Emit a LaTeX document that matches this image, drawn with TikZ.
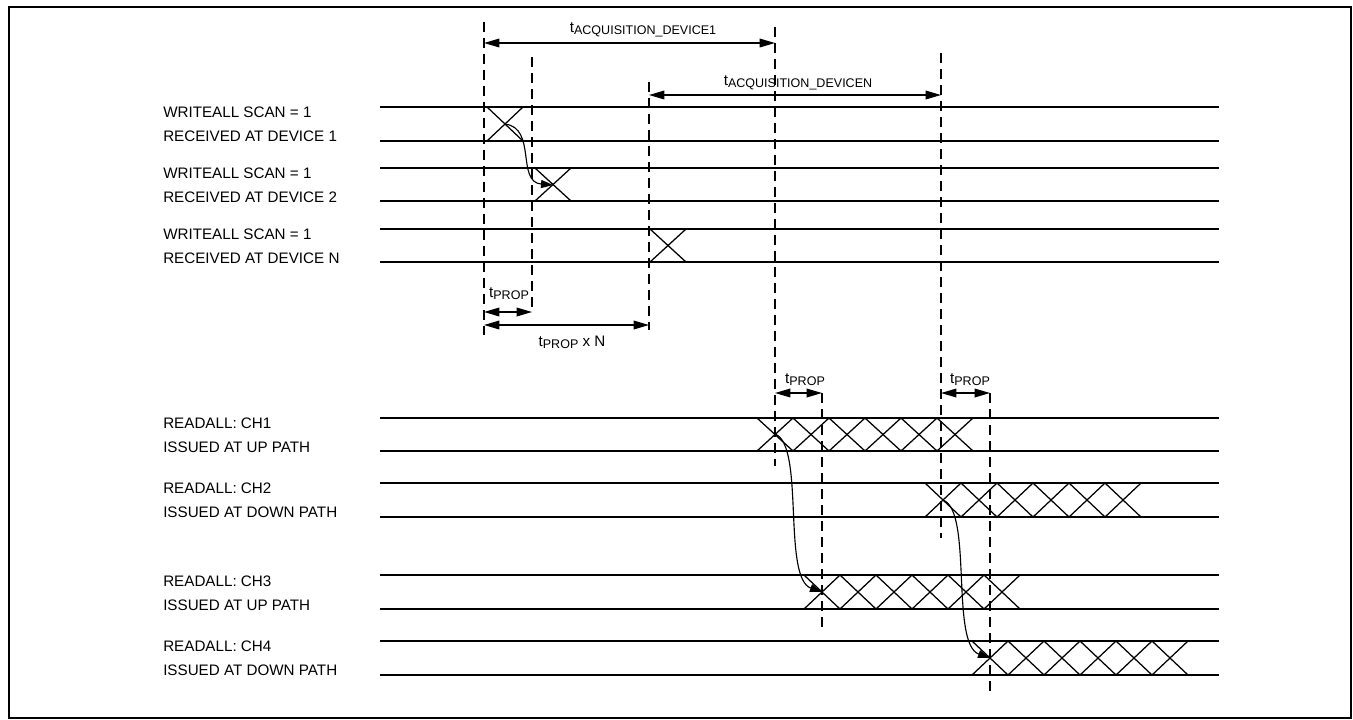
\documentclass[tikz,border=0pt]{standalone}
\usepackage{fontspec}
\setmainfont{Liberation Sans}
\usetikzlibrary{arrows.meta}
\tikzset{
	lane/.style ={line width=1.1pt},
	xing/.style ={line width=0.95pt},
	guide/.style={line width=0.95pt, dash pattern=on 7.5pt off 4.5pt},
	dim/.style  ={{Triangle[length=11.5pt, width=6.5pt]}-{Triangle[length=11.5pt, width=6.5pt]}, line width=0.95pt},
	hop/.style  ={-{Triangle[length=9pt, width=6pt]}, line width=0.85pt},
	lbl/.style  ={align=left, anchor=west, inner sep=0pt, font=\fontsize{11.4}{18}\selectfont},
	tlbl/.style ={inner sep=0pt, font=\fontsize{11.4}{13}\selectfont},
}
% t with its lowered, smaller index
\newcommand{\tsub}[1]{t\raisebox{-0.25ex}{\fontsize{9.4}{10}\selectfont #1}}
% run of crossings: first x, top y, bottom y, count
\newcommand{\xings}[4]{%
	\foreach \k in {1,...,#4}
		\draw[xing] ({#1+36*(\k-1)},#2) -- ({#1+36*\k},#3) ({#1+36*(\k-1)},#3) -- ({#1+36*\k},#2);}

\begin{document}
\begin{tikzpicture}[x=0.75pt, y=-0.75pt]
	\useasboundingbox (0,0) rectangle (1353,719);
	\draw[line width=1.5pt] (9,7) rectangle (1351,718);

	% signal lanes
	\foreach \yt/\yb in {107/141, 168/201, 229/262, 418/451, 483/517, 575/609, 641/675}
		\draw[lane] (380,\yt) -- (1219,\yt) (380,\yb) -- (1219,\yb);

	\node[lbl] (w1) at (163,124) {WRITEALL SCAN = 1\\RECEIVED AT DEVICE 1};
	\node[lbl] (w2) at (163,185) {WRITEALL SCAN = 1\\RECEIVED AT DEVICE 2};
	\node[lbl] (wn) at (163,246) {WRITEALL SCAN = 1\\RECEIVED AT DEVICE N};
	\node[lbl] (r1) at (163,435) {READALL: CH1\\ISSUED AT UP PATH};
	\node[lbl] (r2) at (163,500) {READALL: CH2\\ISSUED AT DOWN PATH};
	\node[lbl] (r3) at (163,593) {READALL: CH3\\ISSUED AT UP PATH};
	\node[lbl] (r4) at (163,658) {READALL: CH4\\ISSUED AT DOWN PATH};

	% transitions
	\xings{487}{107}{141}{1}
	\xings{535}{168}{201}{1}
	\xings{650}{229}{262}{1}
	\xings{757}{418}{451}{6}
	\xings{925}{483}{517}{6}
	\xings{804}{575}{609}{6}
	\xings{972}{641}{675}{6}

	% dashed guides
	\foreach \n/\x/\ya/\yb in {1/484/22/335, 2/532/57/313, 3/649/82/330, 4/775/27/466, 5/941/53/538, 6/822/393/627, 7/990/393/692} {
		\coordinate (g\n) at (\x,0);
		\draw[guide] (\x,\ya) -- (\x,\yb);
	}

	% timing intervals
	\draw[dim] (g1 |- 0,43) -- (g4 |- 0,43);
	\draw[dim] (g3 |- 0,95) -- (g5 |- 0,95);
	\draw[dim] (g1 |- 0,312) -- (g2 |- 0,312);
	\draw[dim] (g1 |- 0,325) -- (g3 |- 0,325);
	\draw[dim] (g4 |- 0,393) -- (g6 |- 0,393);
	\draw[dim] (g5 |- 0,393) -- (g7 |- 0,393);

	\node[tlbl] (tacq1) at (643,30) {\tsub{ACQUISITION\_DEVICE1}};
	\node[tlbl] (tacqn) at (798,83) {\tsub{ACQUISITION\_DEVICEN}};
	\node[tlbl] (tp1) at (509,294) {\tsub{PROP}};
	\node[tlbl] (tpn) at (572,342) {\tsub{PROP} x N};
	\node[tlbl] (tp2) at (805,380) {\tsub{PROP}};
	\node[tlbl] (tp3) at (970,380) {\tsub{PROP}};

	% hand-over between devices
	\coordinate (s1) at (505,124);
	\coordinate (s2) at (553,185);
	\coordinate (c1) at (775,434);
	\coordinate (c2) at (943,500);
	\coordinate (c3) at (822,592);
	\coordinate (c4) at (990,658);
	\draw[hop] (s1) .. controls (537,128) and (516,182) .. (s2);
	\draw[hop] (c1) .. controls (805,445) and (782,578) .. (c3);
	\draw[hop] (c2) .. controls (973,511) and (950,644) .. (c4);
\end{tikzpicture}
\end{document}
